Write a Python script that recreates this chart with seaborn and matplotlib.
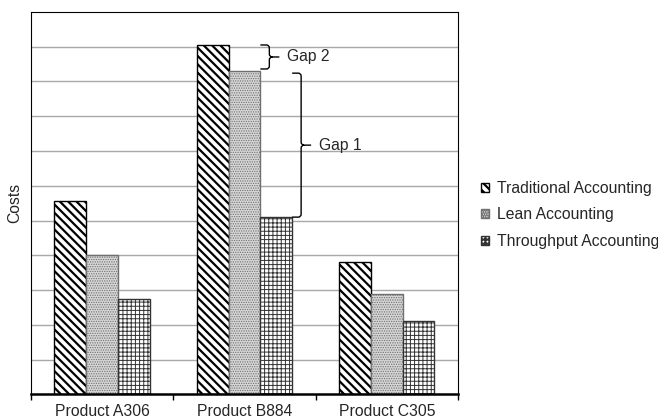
import matplotlib
matplotlib.use('Agg')
import matplotlib.pyplot as plt
import pandas as pd
import seaborn as sns
from matplotlib.path import Path
from matplotlib.patches import PathPatch

# chart values
products = ['Product A306', 'Product B884', 'Product C305']
methods = ['Traditional Accounting', 'Lean Accounting', 'Throughput Accounting']
traditional = [5.55, 10.05, 3.82]
lean = [4.0, 9.3, 2.9]
throughput = [2.75, 5.1, 2.12]

df = pd.DataFrame({
    'product': products * 3,
    'method': [m for m in methods for _ in products],
    'cost': traditional + lean + throughput,
})

sns.set_style('white')
plt.rcParams['font.family'] = ['Liberation Sans', 'DejaVu Sans']
plt.rcParams['hatch.linewidth'] = 1.6
FS = 11.3

fig = plt.figure(figsize=(6.58, 4.19), dpi=100)
ax = fig.add_axes([0.047, 0.0585, 0.649, 0.913])

bar_width = 0.67
sns.barplot(data=df, x='product', y='cost', hue='method', order=products,
            hue_order=methods, palette=['white', '#d6d6d6', 'white'],
            width=bar_width, edgecolor='black', linewidth=1, saturation=1,
            legend=False, ax=ax, zorder=2)

# hatch, hatch/edge colour, hatch line width per method
styles = [('\\\\\\\\', 'black', 1.6), ('.......', '#707070', 0.6),
          ('++++', '#333333', 0.7)]
for container, (hatch, ec, hlw) in zip(ax.containers, styles):
    for bar in container:
        bar.set_hatch(hatch)
        bar.set_edgecolor(ec)
        if hasattr(bar, 'set_hatch_linewidth'):
            bar.set_hatch_linewidth(hlw)

ax.set_xlim(-0.5, 2.5)
ax.set_ylim(0, 11)
ax.set_axisbelow(True)
ax.set_yticks(range(1, 11))
ax.set_yticklabels([])
ax.tick_params(axis='y', length=0)
ax.yaxis.grid(True, color='#a8a8a8', lw=1)

ax.set_xticks(range(len(products)), products)
ax.set_xticks([-0.5, 0.5, 1.5, 2.5], minor=True)
ax.tick_params(axis='x', which='major', length=0, pad=7, labelsize=FS)
ax.tick_params(axis='x', which='minor', bottom=True, length=4, width=1,
               direction='out', color='black')
ax.set_xlabel('')
ax.set_ylabel('Costs', fontsize=FS, labelpad=3)

for side in ['left', 'top', 'right']:
    ax.spines[side].set_color('black')
    ax.spines[side].set_linewidth(0.8)
ax.spines['bottom'].set_color('black')
ax.spines['bottom'].set_linewidth(1.8)

# curly braces marking the gaps on Product B884
px_x = 3 / (ax.get_position().width * 658)   # data units per pixel (x)
px_y = 11 / (ax.get_position().height * 419)  # data units per pixel (y)


def brace(x, y0, y1, label, arm=9, tip=10, r=3):
    xv = x + arm * px_x
    ym = (y0 + y1) / 2
    rx, ry = r * px_x, r * px_y
    verts = [(x, y1), (xv - rx, y1), (xv, y1), (xv, y1 - ry),
             (xv, ym + ry), (xv, ym), (xv + rx, ym), (xv + tip * px_x, ym),
             (xv + rx, ym), (xv, ym), (xv, ym - ry),
             (xv, y0 + ry), (xv, y0), (xv - rx, y0), (x, y0)]
    codes = [Path.MOVETO, Path.LINETO, Path.CURVE3, Path.CURVE3,
             Path.LINETO, Path.CURVE3, Path.CURVE3, Path.LINETO,
             Path.MOVETO, Path.CURVE3, Path.CURVE3,
             Path.LINETO, Path.CURVE3, Path.CURVE3, Path.LINETO]
    ax.add_patch(PathPatch(Path(verts, codes), fill=False, ec='black',
                           lw=1, zorder=3, clip_on=False))
    ax.text(xv + (tip + 8) * px_x, ym, label, fontsize=FS, ha='left',
            va='center', zorder=3)


b = products.index('Product B884')
brace(b + bar_width / 6, lean[b] + 0.06, traditional[b], 'Gap 2')
brace(b + bar_width / 2, throughput[b], lean[b] - 0.06, 'Gap 1')

handles = [c.patches[0] for c in ax.containers]
fig.legend(handles, methods, loc='center left', bbox_to_anchor=(0.722, 0.487),
           frameon=False, fontsize=FS, handlelength=0.5, handleheight=0.5,
           handletextpad=0.5, labelspacing=0.72, borderaxespad=0)

fig.savefig('out.png', dpi=100)
